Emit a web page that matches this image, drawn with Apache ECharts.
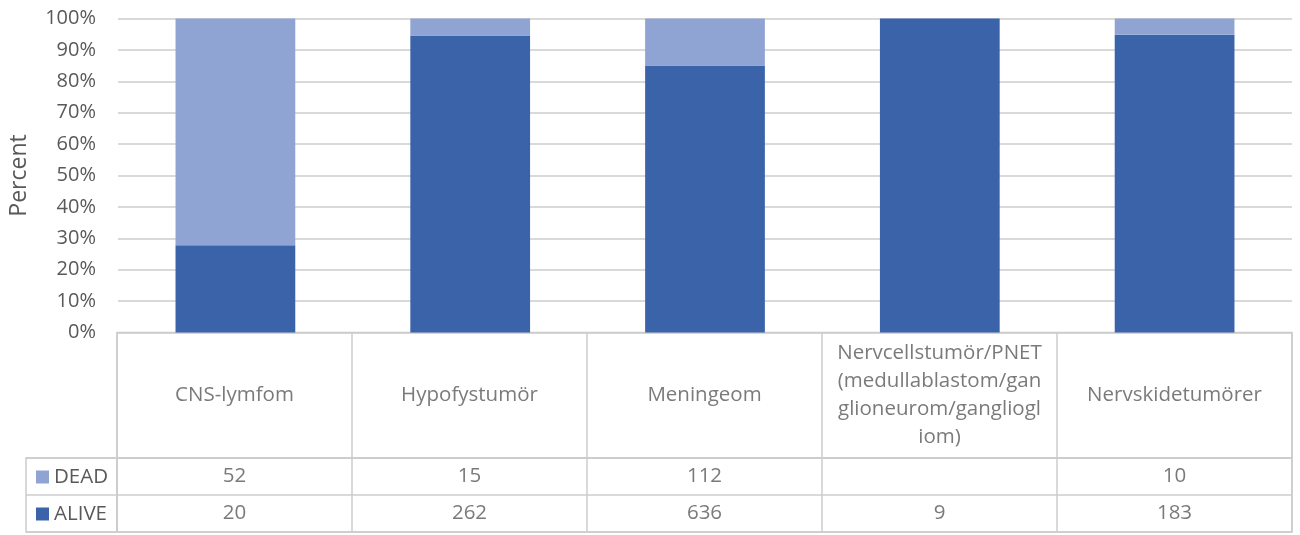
<!DOCTYPE html>
<html>
<head>
<meta charset="utf-8">
<script src="https://cdn.jsdelivr.net/npm/echarts@6/dist/echarts.min.js"></script>
<style>html,body{margin:0;padding:0;background:#fff}#c{width:1300px;height:535px}</style>
</head>
<body>
<div id="c"></div>
<script>
const categories = ['CNS-lymfom', 'Hypofystumör', 'Meningeom', 'Nervcellstumör/PNET (medullablastom/ganglioneurom/gangliogliom)', 'Nervskidetumörer'];
const headerLabels = ['CNS-lymfom', 'Hypofystumör', 'Meningeom', 'Nervcellstumör/PNET\n(medullablastom/gan\nglioneurom/gangliogl\niom)', 'Nervskidetumörer'];
const dead = [52, 15, 112, null, 10];
const alive = [20, 262, 636, 9, 183];
const yTicks = [0, 10, 20, 30, 40, 50, 60, 70, 80, 90, 100];

const totals = categories.map((c, i) => (dead[i] || 0) + (alive[i] || 0));
const alivePct = alive.map((v, i) => (v || 0) / totals[i] * 100);
const deadPct = dead.map((v, i) => (v || 0) / totals[i] * 100);

const TXT = '#595959';
const LINE = '#cccccc';
const FONT = 'Open Sans';
const C_ALIVE = '#3b63aa';
const C_DEAD = '#8fa4d3';

const chart = echarts.init(document.getElementById('c'), null, {renderer: 'canvas'});
const hiddenVal = (gi) => ({type: 'value', gridIndex: gi, min: 0, max: 1, show: false});
const tableX = (gi) => ({
  type: 'category', gridIndex: gi, data: categories, boundaryGap: true,
  axisLine: {show: false}, axisTick: {show: false}, axisLabel: {show: false},
  splitLine: {show: true, interval: 0, lineStyle: {color: LINE, width: 1.5}}
});
const rowY = (gi) => ({
  type: 'category', gridIndex: gi, data: ['ALIVE', 'DEAD'],
  axisLine: {show: false}, axisTick: {show: false}, axisLabel: {show: false},
  splitLine: {show: true, interval: 0, lineStyle: {color: LINE, width: 1.5}}
});
const cellLabel = {show: true, position: 'inside', color: TXT, fontFamily: FONT, fontSize: 20.5};

chart.setOption({
  animation: false,
  textStyle: {fontFamily: FONT},
  grid: [
    {left: 117, right: 8, top: 18.5, height: 314},
    {left: 117, right: 8, top: 332.5, height: 125.5, show: true, borderColor: LINE, borderWidth: 1.5},
    {left: 117, right: 8, top: 458, height: 74, show: true, borderColor: LINE, borderWidth: 1.5},
    {left: 26, width: 91, top: 458, height: 74, show: true, borderColor: LINE, borderWidth: 1.5}
  ],
  legend: [
    {data: ['DEAD'], left: 36, top: 466.5, padding: 0, orient: 'vertical', icon: 'rect', itemWidth: 13, itemHeight: 13, itemStyle: {borderWidth: 0}, selectedMode: false,
     textStyle: {color: TXT, fontSize: 20.5, fontFamily: FONT, lineHeight: 20}},
    {data: ['ALIVE'], left: 36, top: 503.5, padding: 0, orient: 'vertical', icon: 'rect', itemWidth: 13, itemHeight: 13, itemStyle: {borderWidth: 0}, selectedMode: false,
     textStyle: {color: TXT, fontSize: 20.5, fontFamily: FONT, lineHeight: 20}}
  ],
  xAxis: [
    {type: 'category', gridIndex: 0, data: categories, axisLine: {show: false}, axisTick: {show: false}, axisLabel: {show: false}},
    tableX(1),
    tableX(2),
    {type: 'value', gridIndex: 3, min: 0, max: 1, show: false}
  ],
  yAxis: [
    {type: 'value', gridIndex: 0, min: yTicks[0], max: yTicks[yTicks.length - 1], interval: 10,
     axisLine: {show: false}, axisTick: {show: false},
     axisLabel: {formatter: '{value}%', color: TXT, fontSize: 20, fontFamily: FONT, margin: 22},
     splitLine: {lineStyle: {color: LINE, width: 1.5}},
     name: 'Percent', nameLocation: 'middle', nameGap: 87,
     nameTextStyle: {color: TXT, fontSize: 23, fontFamily: FONT}},
    hiddenVal(1),
    rowY(2),
    rowY(3)
  ],
  series: [
    {name: 'ALIVE', type: 'bar', stack: 'a', xAxisIndex: 0, yAxisIndex: 0, barWidth: '51%', data: alivePct, itemStyle: {color: C_ALIVE}},
    {name: 'DEAD', type: 'bar', stack: 'a', xAxisIndex: 0, yAxisIndex: 0, barWidth: '51%', data: deadPct, itemStyle: {color: C_DEAD}},
    {type: 'scatter', xAxisIndex: 1, yAxisIndex: 1, symbolSize: 0, silent: true,
     data: categories.map((c, i) => ({value: [c, 0.5], label: {formatter: headerLabels[i]}})),
     label: Object.assign({}, cellLabel, {lineHeight: 28})},
    {type: 'scatter', xAxisIndex: 2, yAxisIndex: 2, symbolSize: 0, silent: true,
     data: categories.map((c, i) => ({value: [c, 'DEAD'], label: {formatter: dead[i] == null ? '' : String(dead[i])}})),
     label: cellLabel},
    {type: 'scatter', xAxisIndex: 2, yAxisIndex: 2, symbolSize: 0, silent: true,
     data: categories.map((c, i) => ({value: [c, 'ALIVE'], label: {formatter: alive[i] == null ? '' : String(alive[i])}})),
     label: cellLabel}
  ]
});
</script>
</body>
</html>
